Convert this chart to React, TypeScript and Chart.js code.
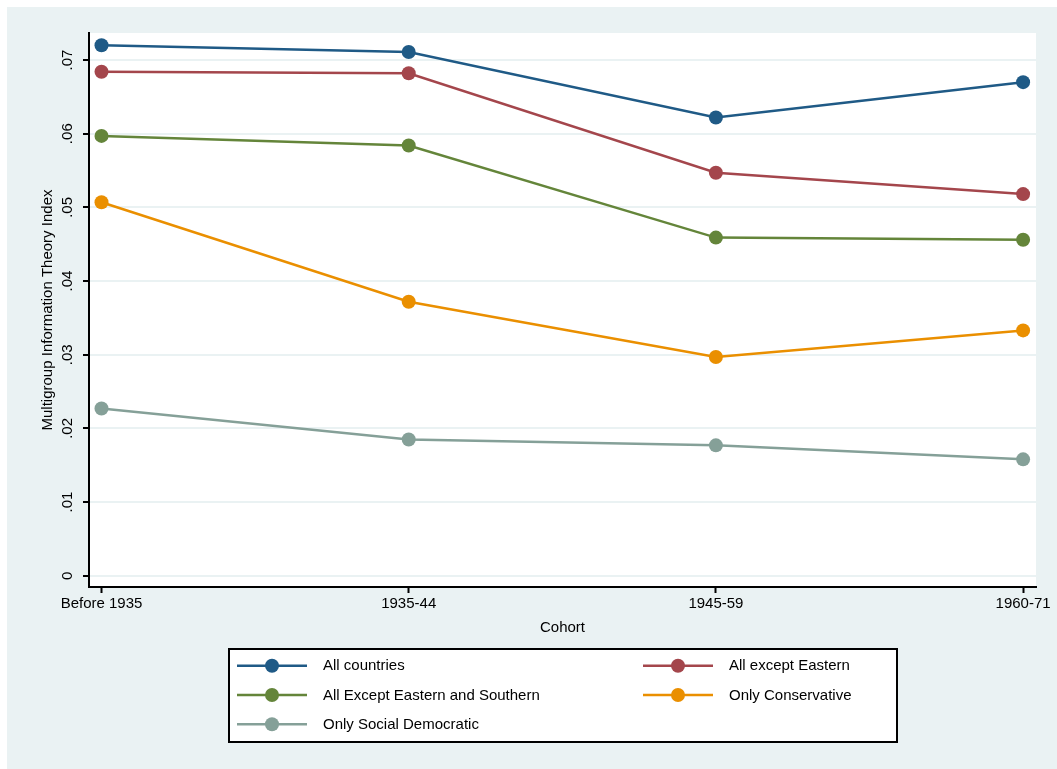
import React, { useEffect, useRef } from 'react';
import { Chart, registerables } from 'chart.js';

Chart.register(...registerables);

const categories = ['Before 1935', '1935-44', '1945-59', '1960-71'];
const seriesLabels = [
  'All countries',
  'All except Eastern',
  'All Except Eastern and Southern',
  'Only Conservative',
  'Only Social Democratic',
];
const allCountries = [0.072, 0.0711, 0.0622, 0.067];
const allExceptEastern = [0.0684, 0.0682, 0.0547, 0.0518];
const allExceptEasternSouthern = [0.0597, 0.0584, 0.0459, 0.0456];
const onlyConservative = [0.0507, 0.0372, 0.0297, 0.0333];
const onlySocialDemocratic = [0.0227, 0.0185, 0.0177, 0.0158];
const yTickValues = [0, 0.01, 0.02, 0.03, 0.04, 0.05, 0.06, 0.07];
const yTickLabels = ['0', '.01', '.02', '.03', '.04', '.05', '.06', '.07'];
const colors = ['#1f5a86', '#a4464c', '#64853a', '#ea8f00', '#85a098'];

const FONT = "'Liberation Sans', Arial, Helvetica, sans-serif";

const frameBg = {
  id: 'frameBg',
  beforeDraw(chart: any) {
    const { ctx, width, height, chartArea: a } = chart;
    ctx.save();
    ctx.fillStyle = '#ffffff';
    ctx.fillRect(0, 0, width, height);
    ctx.fillStyle = '#eaf2f3';
    ctx.fillRect(7, 7, width - 7, height - 7);
    ctx.fillStyle = '#ffffff';
    ctx.fillRect(a.left - 1, a.top, a.right - a.left + 1, a.bottom - a.top);
    ctx.restore();
  },
};

const boxLegend = {
  id: 'boxLegend',
  afterDraw(chart: any) {
    const { ctx } = chart;
    const box = { left: 229, top: 649, right: 897, bottom: 742 };
    ctx.save();
    ctx.fillStyle = '#ffffff';
    ctx.fillRect(box.left, box.top, box.right - box.left, box.bottom - box.top);
    ctx.strokeStyle = '#000000';
    ctx.lineWidth = 2;
    ctx.strokeRect(box.left, box.top, box.right - box.left, box.bottom - box.top);
    const colX = [237, 643];
    const rowY = [665.7, 695, 724.3];
    ctx.font = `15px ${FONT}`;
    ctx.textBaseline = 'middle';
    ctx.textAlign = 'left';
    chart.data.datasets.forEach((ds: any, i: number) => {
      const x0 = colX[i % 2];
      const y = rowY[Math.floor(i / 2)];
      ctx.strokeStyle = ds.borderColor;
      ctx.lineWidth = 2.5;
      ctx.beginPath();
      ctx.moveTo(x0, y);
      ctx.lineTo(x0 + 70, y);
      ctx.stroke();
      ctx.fillStyle = ds.backgroundColor;
      ctx.beginPath();
      ctx.arc(x0 + 35, y, 7, 0, Math.PI * 2);
      ctx.fill();
      ctx.fillStyle = '#000000';
      ctx.fillText(ds.label, x0 + 86, y + 0.5);
    });
    ctx.restore();
  },
};

export default function App() {
  const canvasRef = useRef<HTMLCanvasElement | null>(null);

  useEffect(() => {
    if (!canvasRef.current) return;
    Chart.defaults.font.family = FONT;
    Chart.defaults.color = '#000000';
    const seriesValues = [
      allCountries,
      allExceptEastern,
      allExceptEasternSouthern,
      onlyConservative,
      onlySocialDemocratic,
    ];
    const chart = new Chart(canvasRef.current, {
      type: 'line',
      data: {
        datasets: seriesValues.map((vals, i) => ({
          label: seriesLabels[i],
          data: vals.map((v, j) => ({ x: j, y: v })),
          borderColor: colors[i],
          backgroundColor: colors[i],
          pointBackgroundColor: colors[i],
          pointBorderWidth: 0,
          pointRadius: 7,
          pointHoverRadius: 7,
          borderWidth: 2.5,
          tension: 0,
          clip: false as any,
        })),
      },
      options: {
        animation: false,
        responsive: false,
        maintainAspectRatio: false,
        devicePixelRatio: 1,
        layout: { padding: { left: 30, top: 33, right: 21, bottom: 132 } },
        plugins: {
          legend: { display: false },
          tooltip: { enabled: false },
        },
        scales: {
          x: {
            type: 'linear',
            min: -0.0407,
            max: 3.042,
            afterBuildTicks: (s: any) => {
              s.ticks = categories.map((_, i) => ({ value: i }));
            },
            afterFit: (s: any) => {
              s.height = 50;
            },
            ticks: {
              font: { size: 15 },
              color: '#000000',
              padding: 2,
              maxRotation: 0,
              minRotation: 0,
              autoSkip: false,
              callback: (v: any) => categories[Math.round(Number(v))] ?? '',
            },
            grid: {
              drawOnChartArea: false,
              drawTicks: true,
              tickLength: 6,
              tickColor: '#000000',
              tickWidth: 2,
              color: '#000000',
            },
            border: { display: true, color: '#000000', width: 2 },
            title: {
              display: true,
              text: 'Cohort',
              font: { size: 15 },
              color: '#000000',
              padding: { top: 0, bottom: 0 },
            },
          },
          y: {
            type: 'linear',
            min: -0.00153,
            max: 0.07367,
            afterBuildTicks: (s: any) => {
              s.ticks = yTickValues.map((v) => ({ value: v }));
            },
            afterFit: (s: any) => {
              s.width = 59;
            },
            ticks: {
              font: { size: 15 },
              color: '#000000',
              padding: 4.5,
              minRotation: 90,
              maxRotation: 90,
              crossAlign: 'center',
              autoSkip: false,
              callback: (v: any) => {
                const idx = yTickValues.findIndex((t) => Math.abs(t - Number(v)) < 1e-9);
                return idx >= 0 ? yTickLabels[idx] : '';
              },
            },
            grid: {
              drawOnChartArea: true,
              color: '#eaf2f3',
              lineWidth: 2,
              drawTicks: true,
              tickLength: 6,
              tickColor: '#000000',
              tickWidth: 2,
            },
            border: { display: true, color: '#000000', width: 2 },
            title: {
              display: true,
              text: 'Multigroup Information Theory Index',
              font: { size: 15 },
              color: '#000000',
              padding: { top: 9, bottom: 0 },
            },
          },
        },
      },
      plugins: [frameBg, boxLegend],
    });
    return () => chart.destroy();
  }, []);

  return (
    <div style={{ position: 'absolute', left: 0, top: 0, width: 1057, height: 769, background: '#ffffff' }}>
      <canvas ref={canvasRef} width={1057} height={769} style={{ width: 1057, height: 769, display: 'block' }} />
    </div>
  );
}
